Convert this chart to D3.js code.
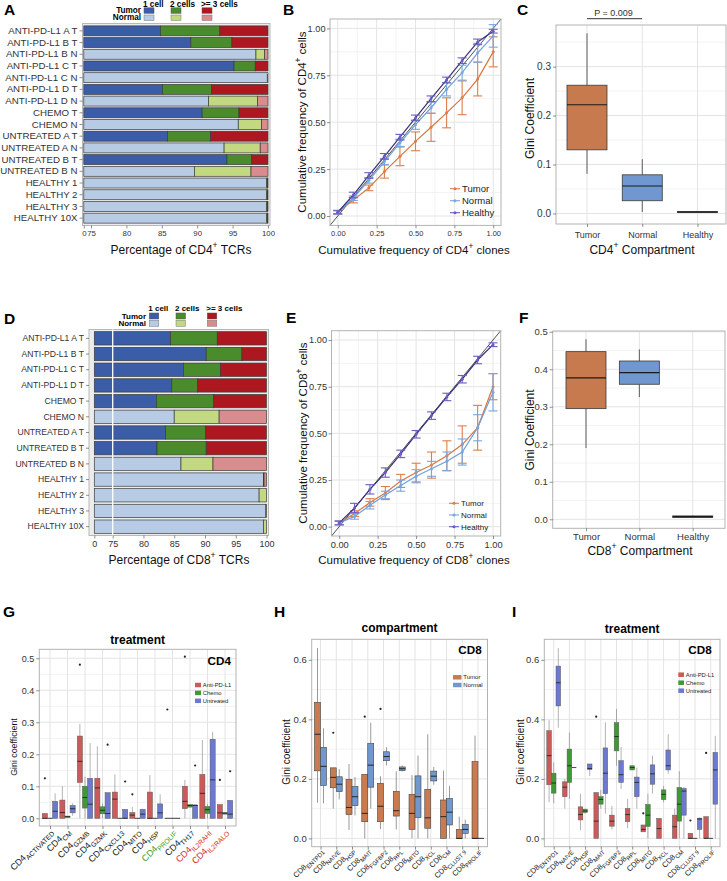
<!DOCTYPE html>
<html lang="en">
<head>
<meta charset="UTF-8"/>
<title>Clonal expansion of CD4 and CD8 T cells</title>
<script src="https://d3js.org/d3.v7.min.js"></script>
<style>
  body { margin: 0; background: #fff; }
</style>
</head>
<body>
<div id="figure"></div>
<script>
// ---------------- data ----------------
// A: share of CD4 TCRs in clones of 1 cell, 2 cells, >= 3 cells (%)
const cd4Samples = ["ANTI-PD-L1 A T","ANTI-PD-L1 B T","ANTI-PD-L1 B N","ANTI-PD-L1 C T","ANTI-PD-L1 C N",
  "ANTI-PD-L1 D T","ANTI-PD-L1 D N","CHEMO T","CHEMO N","UNTREATED A T","UNTREATED A N","UNTREATED B T",
  "UNTREATED B N","HEALTHY 1","HEALTHY 2","HEALTHY 3","HEALTHY 10X"];
const cd4OneCell    = [84.8,89.1,98.3,95.2,99.9,85.1,91.6,90.7,95.8,85.8,93.8,94.2,89.6,99.8,99.8,99.8,99.8];
const cd4TwoCells   = [8.4,5.8,1.2,3.0,0.1,6.9,6.9,5.2,3.3,6.1,5.1,3.5,8.0,0.15,0.15,0.15,0.15];
const cd4ThreeCells = [6.8,5.1,0.5,1.8,0.0,8.0,1.5,4.1,0.9,8.1,1.1,2.3,2.4,0.05,0.05,0.05,0.05];

// D: same for CD8
const cd8Samples = ["ANTI-PD-L1 A T","ANTI-PD-L1 B T","ANTI-PD-L1 C T","ANTI-PD-L1 D T","CHEMO T","CHEMO N",
  "UNTREATED A T","UNTREATED B T","UNTREATED B N","HEALTHY 1","HEALTHY 2","HEALTHY 3","HEALTHY 10X"];
const cd8OneCell    = [84.4,90.2,86.5,84.6,82.1,85.0,83.6,82.2,86.1,99.5,98.8,99.9,99.5];
const cd8TwoCells   = [7.6,5.8,6.0,4.2,9.3,7.3,6.5,8.0,5.2,0.1,1.2,0.1,0.5];
const cd8ThreeCells = [8.0,4.0,7.5,11.2,8.6,7.7,9.9,9.8,8.7,0.4,0.0,0.0,0.0];
const pctTicks = [0,75,80,85,90,95,100];

// B / E: cumulative frequency curves (mean and error)
const cloneFrac = [0,0.1,0.2,0.3,0.4,0.5,0.6,0.7,0.8,0.9,1.0];
const cd4TumorCum     = [0.02,0.085,0.15,0.237,0.318,0.398,0.473,0.55,0.63,0.73,0.875];
const cd4TumorCumErr  = [0.01,0.015,0.015,0.035,0.05,0.05,0.075,0.08,0.09,0.09,0.08];
const cd4NormalCum    = [0.02,0.095,0.19,0.29,0.39,0.487,0.577,0.675,0.764,0.87,0.96];
const cd4NormalCumErr = [0.01,0.012,0.015,0.015,0.02,0.025,0.03,0.035,0.04,0.05,0.06];
const cd4HealthyCum   = [0.02,0.112,0.216,0.318,0.42,0.523,0.625,0.725,0.828,0.928,0.985];
const cd4HealthyCumErr= [0.008,0.015,0.015,0.015,0.015,0.015,0.015,0.015,0.015,0.015,0.01];
const cd8TumorCum     = [0.02,0.07,0.13,0.18,0.245,0.29,0.33,0.38,0.44,0.53,0.75];
const cd8TumorCumErr  = [0.01,0.015,0.02,0.035,0.035,0.05,0.07,0.08,0.1,0.12,0.07];
const cd8NormalCum    = [0.02,0.055,0.115,0.17,0.22,0.27,0.31,0.35,0.40,0.53,0.72];
const cd8NormalCumErr = [0.01,0.015,0.02,0.02,0.03,0.035,0.04,0.05,0.07,0.07,0.1];
const cd8HealthyCum   = [0.02,0.10,0.20,0.29,0.39,0.495,0.595,0.695,0.79,0.893,0.975];
const cd8HealthyCumErr= [0.01,0.025,0.025,0.025,0.02,0.02,0.02,0.02,0.02,0.02,0.01];
const cumTicks = [0,0.25,0.5,0.75,1];

// C / F: Gini coefficient per compartment [low whisker, q1, median, q3, high whisker]
const compartments = ["Tumor","Normal","Healthy"];
const cd4Gini = [[0.081,0.13,0.222,0.262,0.368],[0.003,0.026,0.056,0.079,0.111],[0.001,0.002,0.003,0.004,0.005]];
const cd8Gini = [[0.19,0.295,0.377,0.447,0.48],[0.326,0.36,0.391,0.422,0.453],[0.004,0.005,0.007,0.009,0.01]];

// G: CD4 subsets by treatment
const cd4Subsets = ["ACTIVATED","CM","GZMB","GZMK","CXCL13","MITO","HSP","PROLIF","TH17","IL2RAHI","IL2RALO"];
const treatments = ["Anti-PD-L1","Chemo","Untreated"];
const cd4AntiPD = [[0,0,0,0.015,0.015],[0,0,0.018,0.057,0.1],[0,0.112,0.178,0.257,0.295],[0,0,0.095,0.125,0.225],
  [0,0,0.06,0.082,0.137],[0,0,0.01,0.018,0.035],[0,0,0,0.082,0.135],[0,0,0,0,0],[0,0.03,0.053,0.1,0.12],
  [0,0,0.078,0.137,0.245],[0,0,0.017,0.043,0.043]];
const cd4Chemo = [[0,0,0,0,0],[0.003,0.003,0.005,0.007,0.007],[0,0.032,0.065,0.1,0.13],[0,0.014,0.025,0.036,0.046],
  [0,0,0,0,0],[0,0,0,0,0],[0,0,0,0,0],[0,0,0,0,0],[0.035,0.035,0.04,0.043,0.043],
  [0,0.015,0.027,0.037,0.045],[0.013,0.013,0.016,0.018,0.018]];
const cd4Untreated = [[0,0,0.022,0.053,0.078],[0.008,0.017,0.03,0.04,0.047],[0,0,0.044,0.125,0.235],[0,0,0.015,0.08,0.08],
  [0,0,0,0.028,0.028],[0,0,0.013,0.028,0.03],[0,0,0.017,0.045,0.075],[0,0,0,0,0],[0,0,0.04,0.042,0.042],
  [0,0,0.12,0.247,0.27],[0,0,0.013,0.056,0.056]];
const cd4Outliers = [[0,0,0.125],[2,0,0.48],[3,2,0.23],[4,2,0.115],[5,0,0.075],[7,0,0.34],[8,2,0.165],[8,0,0.505],[10,0,0.12],[10,2,0.147]];

// H: CD8 subsets by compartment
const cd8Subsets = ["ENTPD1","NAIVE","HSP","MAIT","FGFBP2","RPL","MITO","XCL","CM","CLUST 9","PROLIF"];
const tissues = ["Tumor","Normal"];
const cd8Tumor = [[0.12,0.227,0.35,0.457,0.64],[0.10,0.17,0.205,0.237,0.237],[0.028,0.08,0.104,0.198,0.25],
  [0,0.056,0.084,0.215,0.215],[0.031,0.056,0.108,0.185,0.209],[0.03,0.075,0.093,0.158,0.225],[0,0.03,0.084,0.148,0.213],
  [0,0.034,0.069,0.165,0.35],[0,0,0.073,0.129,0.228],[0,0,0,0.03,0.073],[0,0,0,0.258,0.345]];
const cd8Normal = [[0.118,0.178,0.242,0.306,0.37],[0.131,0.157,0.182,0.207,0.233],[0.077,0.11,0.14,0.174,0.206],
  [0.10,0.172,0.246,0.319,0.389],[0.245,0.261,0.275,0.291,0.306],[0.225,0.228,0.234,0.24,0.245],[0,0.07,0.14,0.21,0.278],
  [0.18,0.193,0.209,0.226,0.24],[0,0.045,0.088,0.134,0.176],[0,0.017,0.03,0.047,0.063],[0,0,0,0,0]];
const cd8TissueOutliers = [[1,0,0.355],[3,0,0.409],[4,0,0.435]];

// I: CD8 subsets by treatment
const cd8AntiPD = [[0.121,0.18,0.278,0.362,0.397],[0.10,0.14,0.172,0.19,0.2],[0.028,0.062,0.08,0.106,0.15],
  [0,0,0.058,0.154,0.154],[0.03,0.041,0.058,0.078,0.109],[0.034,0.056,0.08,0.1,0.132],[0.022,0.022,0.03,0.045,0.045],
  [0,0,0.033,0.067,0.067],[0,0,0.039,0.078,0.1],[0,0,0,0.017,0.017],[0,0,0,0.073,0.073]];
const cd8Chemo = [[0.118,0.152,0.186,0.219,0.255],[0.132,0.188,0.244,0.3,0.356],[0.083,0.087,0.092,0.098,0.1],
  [0.1,0.115,0.131,0.14,0.163],[0.244,0.294,0.342,0.389,0.435],[0.23,0.23,0.238,0.244,0.244],[0,0.04,0.078,0.114,0.15],
  [0.121,0.13,0.148,0.163,0.176],[0,0.058,0.115,0.171,0.226],[0,0,0,0,0],[0,0,0,0,0]];
const cd8Untreated = [[0.372,0.445,0.523,0.579,0.639],[0.238,0.238,0.238,0.238,0.238],[0.21,0.231,0.235,0.25,0.25],
  [0.083,0.15,0.219,0.304,0.39],[0.166,0.188,0.214,0.261,0.307],[0.1,0.14,0.188,0.206,0.238],[0.15,0.182,0.217,0.247,0.278],
  [0.217,0.23,0.244,0.297,0.35],[0,0.078,0.159,0.168,0.173],[0,0.03,0.065,0.068,0.07],[0,0.115,0.23,0.289,0.345]];
const cd8TreatOutliers = [[3,0,0.409],[6,0,0.084],[9,0,0.06],[10,0,0.287]];

// ---------------- drawing ----------------
const FONT = "'Liberation Sans', Arial, Helvetica, sans-serif";
const svg = d3.select("#figure").append("svg")
  .attr("width", 727).attr("height", 881)
  .attr("font-family", FONT);

const tumorFill  = ["#3b5ca6", "#4a8b2c", "#ad1820"];
const normalFill = ["#b7cbe5", "#c3d981", "#d98b8e"];

// text with sub/superscript parts: ["CD4", ["+", "sup"], " TCRs"]
function rich(sel, parts, size, ratio) {
  const r = ratio || 0.72;
  let cur = 0;
  parts.forEach(p => {
    const [s, kind] = typeof p === "string" ? [p, null] : p;
    const off = kind === "sup" ? -0.42 * size : kind === "sub" ? 0.3 * size : 0;
    sel.append("tspan").attr("dy", off - cur).attr("font-size", kind ? size * r : size).text(s);
    cur = off;
  });
  return sel;
}

function styleAxis(sel, size) {
  sel.attr("font-family", FONT).attr("font-size", size);
  sel.select(".domain").remove();
  sel.selectAll(".tick line").attr("stroke", "#444").attr("stroke-width", 0.6);
  sel.selectAll(".tick text").attr("fill", "#333");
}

function frameRect(g, f, fill, stroke) {
  return g.append("rect").attr("x", f[0]).attr("y", f[1])
    .attr("width", f[2] - f[0]).attr("height", f[3] - f[1])
    .attr("fill", fill || "none").attr("stroke", stroke || "#b3b3b3").attr("stroke-width", 1);
}

function panelLabel(t, x, y) {
  svg.append("text").attr("x", x).attr("y", y).attr("font-size", 15.5)
    .attr("font-weight", "bold").text(t);
}

function yTitle(parts, x, y, size) {
  rich(svg.append("text").attr("transform", `translate(${x},${y}) rotate(-90)`)
    .attr("text-anchor", "middle").attr("fill", "#111"), parts, size);
}

function xTitle(parts, x, y, size) {
  rich(svg.append("text").attr("x", x).attr("y", y)
    .attr("text-anchor", "middle").attr("fill", "#111"), parts, size);
}

// ---- stacked clone-size bars (A, D) ----
function drawStacked(o) {
  const g = svg.append("g");
  const f = o.frame;
  const x = d3.scaleLinear().domain([0, 75, 100]).range(o.xRange);
  const y = d3.scaleBand().domain(o.names).range(o.yRange).paddingInner(0.15).paddingOuter(0.075);
  frameRect(g, f, "#ececec", "#b8b8b8");

  o.names.forEach((name, i) => {
    const cols = / T$/.test(name) ? tumorFill : normalFill;
    const parts = [o.one[i], o.two[i], o.three[i]];
    let start = 0;
    parts.forEach((v, k) => {
      if (v > 0) {
        g.append("rect")
          .attr("x", x(start)).attr("y", y(name))
          .attr("width", x(start + v) - x(start)).attr("height", y.bandwidth())
          .attr("fill", cols[k]).attr("stroke", "#3c3c3c").attr("stroke-width", 0.7);
      }
      start += v;
    });
  });
  if (o.breakLine) {
    g.append("line").attr("x1", x(75)).attr("x2", x(75)).attr("y1", f[1]).attr("y2", f[3])
      .attr("stroke", "#fff").attr("stroke-width", 1.3);
  }

  g.append("g").attr("transform", `translate(${f[0]},0)`)
    .call(d3.axisLeft(y).tickSize(3).tickPadding(2))
    .call(s => styleAxis(s, o.labelSize));
  g.append("g").attr("transform", `translate(0,${f[3]})`)
    .call(d3.axisBottom(x).tickValues(pctTicks).tickSize(3).tickPadding(2).tickFormat(d3.format("d")))
    .call(s => styleAxis(s, o.tickSize));

  // legend
  const L = o.legend;
  ["1 cell", "2 cells", ">= 3 cells"].forEach((t, k) => {
    g.append("text").attr("x", L.sw[k] - 1).attr("y", L.hdrY).attr("font-size", L.size)
      .attr("font-weight", "bold").text(t);
    g.append("rect").attr("x", L.sw[k]).attr("y", L.tSwY).attr("width", L.swW).attr("height", L.swH)
      .attr("fill", tumorFill[k]).attr("stroke", "#555").attr("stroke-width", 0.5);
    g.append("rect").attr("x", L.sw[k]).attr("y", L.nSwY).attr("width", L.swW).attr("height", L.swH)
      .attr("fill", normalFill[k]).attr("stroke", "#777").attr("stroke-width", 0.5);
  });
  g.append("text").attr("x", L.labelX).attr("y", L.tY).attr("text-anchor", "end")
    .attr("font-size", L.size).attr("font-weight", "bold").text("Tumor");
  g.append("text").attr("x", L.labelX).attr("y", L.nY).attr("text-anchor", "end")
    .attr("font-size", L.size).attr("font-weight", "bold").text("Normal");
}

drawStacked({
  names: cd4Samples, one: cd4OneCell, two: cd4TwoCells, three: cd4ThreeCells,
  frame: [82.5, 23.5, 270, 225.5], xRange: [83.8, 91, 268], yRange: [25, 224],
  labelSize: 9.7, tickSize: 7.8,
  legend: { size: 8.2, hdrY: 6.8, tY: 12.8, nY: 20.4, labelX: 141, sw: [144, 171, 202],
            swW: 10, swH: 5.5, tSwY: 7.8, nSwY: 15 }
});
xTitle(["Percentage of CD4", ["+", "sup"], " TCRs"], 181, 253.5, 12);

drawStacked({
  names: cd8Samples, one: cd8OneCell, two: cd8TwoCells, three: cd8ThreeCells,
  frame: [89, 329.5, 268.5, 535.5], xRange: [94.3, 112.7, 266.5], yRange: [330.5, 534.5],
  labelSize: 8.6, tickSize: 9, breakLine: true,
  legend: { size: 8, hdrY: 311.3, tY: 318.5, nY: 326.2, labelX: 146, sw: [149.3, 176, 207.3],
            swW: 9.5, swH: 6, tSwY: 313, nSwY: 320.3 }
});
xTitle(["Percentage of CD8", ["+", "sup"], " TCRs"], 179, 563.5, 12);

// ---- cumulative frequency curves (B, E) ----
function drawCum(o) {
  const g = svg.append("g");
  const f = o.frame;
  const x = d3.scaleLinear().domain([-0.05, 1.05]).range([f[0], f[2]]);
  const y = d3.scaleLinear().domain([-0.05, 1.05]).range([f[3], f[1]]);
  frameRect(g, f, "#fff", "none");
  const minor = [0.125, 0.375, 0.625, 0.875];
  minor.forEach(v => {
    g.append("line").attr("x1", x(v)).attr("x2", x(v)).attr("y1", f[1]).attr("y2", f[3]).attr("stroke", "#f3f3f3");
    g.append("line").attr("x1", f[0]).attr("x2", f[2]).attr("y1", y(v)).attr("y2", y(v)).attr("stroke", "#f3f3f3");
  });
  cumTicks.forEach(v => {
    g.append("line").attr("x1", x(v)).attr("x2", x(v)).attr("y1", f[1]).attr("y2", f[3]).attr("stroke", "#e4e4e4");
    g.append("line").attr("x1", f[0]).attr("x2", f[2]).attr("y1", y(v)).attr("y2", y(v)).attr("stroke", "#e4e4e4");
  });
  g.append("line").attr("x1", x(-0.05)).attr("y1", y(-0.05)).attr("x2", x(1.05)).attr("y2", y(1.05))
    .attr("stroke", "#222").attr("stroke-width", 0.8);

  const line = d3.line().x((d, i) => x(cloneFrac[i])).y(d => y(d));
  o.series.forEach(s => {
    g.append("path").attr("d", line(s.mean)).attr("fill", "none")
      .attr("stroke", s.line).attr("stroke-width", 1.2);
    s.mean.forEach((m, i) => {
      const cx = x(cloneFrac[i]), top = y(m + s.err[i]), bot = y(m - s.err[i]);
      g.append("line").attr("x1", cx).attr("x2", cx).attr("y1", top).attr("y2", bot)
        .attr("stroke", s.mark).attr("stroke-width", 1.1);
      [top, bot].forEach(yy => g.append("line").attr("x1", cx - 4.5).attr("x2", cx + 4.5)
        .attr("y1", yy).attr("y2", yy).attr("stroke", s.mark).attr("stroke-width", 1.1));
      g.append("circle").attr("cx", cx).attr("cy", y(m)).attr("r", 1.5).attr("fill", s.mark);
    });
  });
  frameRect(g, f, "none", "#b3b3b3");

  g.append("g").attr("transform", `translate(${f[0]},0)`)
    .call(d3.axisLeft(y).tickValues(cumTicks).tickSize(3).tickPadding(1.5).tickFormat(d3.format(".2f")))
    .call(s => styleAxis(s, o.yTick));
  g.append("g").attr("transform", `translate(0,${f[3]})`)
    .call(d3.axisBottom(x).tickValues(cumTicks).tickSize(3).tickPadding(2).tickFormat(d3.format(".2f")))
    .call(s => styleAxis(s, o.xTick));

  o.series.forEach((s, k) => {
    const yy = o.legendY[k];
    g.append("line").attr("x1", o.legendX).attr("x2", o.legendX + 10).attr("y1", yy).attr("y2", yy)
      .attr("stroke", s.mark).attr("stroke-width", 1.1);
    g.append("circle").attr("cx", o.legendX + 5).attr("cy", yy).attr("r", 1.5).attr("fill", s.mark);
    g.append("text").attr("x", o.legendX + 12).attr("y", yy).attr("dy", "0.35em")
      .attr("font-size", o.legendSize).attr("fill", "#222").text(s.name);
  });
}

drawCum({
  frame: [330, 19, 501, 225.4], yTick: 9.2, xTick: 7.5,
  legendX: 450, legendY: [188.7, 200.7, 212.7], legendSize: 9.5,
  series: [
    { name: "Tumor", mean: cd4TumorCum, err: cd4TumorCumErr, line: "#d8763e", mark: "#dc7e4c" },
    { name: "Normal", mean: cd4NormalCum, err: cd4NormalCumErr, line: "#6f9fdc", mark: "#79a6df" },
    { name: "Healthy", mean: cd4HealthyCum, err: cd4HealthyCumErr, line: "#34307a", mark: "#6a5cc2" }
  ]
});
yTitle(["Cumulative frequency of CD4", ["+", "sup"], " cells"], 305.5, 122, 11.5);
xTitle(["Cumulative frequency of CD4", ["+", "sup"], " clones"], 414, 253.5, 11.5);

drawCum({
  frame: [331.5, 330.7, 500.7, 536], yTick: 9.2, xTick: 9.3,
  legendX: 449, legendY: [503.3, 515, 526.7], legendSize: 8,
  series: [
    { name: "Tumor", mean: cd8TumorCum, err: cd8TumorCumErr, line: "#d8763e", mark: "#dc7e4c" },
    { name: "Normal", mean: cd8NormalCum, err: cd8NormalCumErr, line: "#6f9fdc", mark: "#79a6df" },
    { name: "Healthy", mean: cd8HealthyCum, err: cd8HealthyCumErr, line: "#34307a", mark: "#6a5cc2" }
  ]
});
yTitle(["Cumulative frequency of CD8", ["+", "sup"], " cells"], 306.5, 433, 11.5);
xTitle(["Cumulative frequency of CD8", ["+", "sup"], " clones"], 414, 563.5, 11.5);

// ---- box plots (C, F, G, H, I) ----
function drawBoxes(o) {
  const g = svg.append("g");
  const f = o.frame;
  const x = d3.scalePoint().domain(o.cats).range(o.centers);
  const y = d3.scaleLinear().domain(o.yDomain).range([f[3], f[1]]);
  frameRect(g, f, "#fff", "none");
  o.minor.forEach(v => g.append("line").attr("x1", f[0]).attr("x2", f[2]).attr("y1", y(v)).attr("y2", y(v))
    .attr("stroke", "#f3f3f3"));
  o.major.forEach(v => g.append("line").attr("x1", f[0]).attr("x2", f[2]).attr("y1", y(v)).attr("y2", y(v))
    .attr("stroke", "#e4e4e4"));
  o.cats.forEach(c => g.append("line").attr("x1", x(c)).attr("x2", x(c)).attr("y1", f[1]).attr("y2", f[3])
    .attr("stroke", "#e4e4e4"));

  const n = o.groups.length;
  const bw = o.single ? o.boxW : x.step() * o.dodge / n;
  const boxes = [];
  o.groups.forEach((grp, j) => {
    o.cats.forEach((c, i) => {
      boxes.push({
        cx: x(c) + (o.single ? 0 : (j - (n - 1) / 2) * bw),
        s: grp[i], fill: o.single ? o.fills[i] : o.fills[j]
      });
    });
  });
  boxes.forEach(b => {
    const [lo, q1, md, q3, hi] = b.s;
    const xl = b.cx - bw / 2;
    g.append("line").attr("x1", b.cx).attr("x2", b.cx).attr("y1", y(hi)).attr("y2", y(q3))
      .attr("stroke", o.whisker).attr("stroke-width", o.sw);
    g.append("line").attr("x1", b.cx).attr("x2", b.cx).attr("y1", y(q1)).attr("y2", y(lo))
      .attr("stroke", o.whisker).attr("stroke-width", o.sw);
    g.append("rect").attr("x", xl).attr("y", y(q3)).attr("width", bw)
      .attr("height", Math.max(0, y(q1) - y(q3)))
      .attr("fill", b.fill).attr("stroke", o.boxStroke).attr("stroke-width", o.sw);
    g.append("line").attr("x1", xl).attr("x2", xl + bw).attr("y1", y(md)).attr("y2", y(md))
      .attr("stroke", "#1a1a1a").attr("stroke-width", o.sw + 0.3);
  });
  (o.outliers || []).forEach(([ci, gj, v]) => {
    const cx = x(o.cats[ci]) + (gj - (n - 1) / 2) * bw;
    g.append("circle").attr("cx", cx).attr("cy", y(v)).attr("r", 1.1).attr("fill", "#222");
  });
  frameRect(g, f, "none", "#b3b3b3");

  g.append("g").attr("transform", `translate(${f[0]},0)`)
    .call(d3.axisLeft(y).tickValues(o.major).tickSize(3).tickPadding(2).tickFormat(d3.format(".1f")))
    .call(s => styleAxis(s, o.yTick));
  g.append("g").attr("transform", `translate(0,${f[3]})`)
    .call(d3.axisBottom(x).tickSize(3).tickPadding(o.xPad || 2).tickFormat(o.rotated ? "" : d => d))
    .call(s => styleAxis(s, o.xTick));

  if (o.rotated) {
    o.cats.forEach(c => {
      const t = g.append("text")
        .attr("transform", `translate(${x(c) + 3},${f[3] + o.labDy}) rotate(-45)`)
        .attr("text-anchor", "end").attr("fill", o.labColor(c));
      rich(t, [o.prefix, [c, "sub"]], o.labSize, o.subRatio);
    });
  }
  if (o.legend) {
    const L = o.legend;
    L.names.forEach((nm, k) => {
      const yy = L.y0 + k * L.dy;
      g.append("rect").attr("x", L.x).attr("y", yy - L.h / 2).attr("width", L.w).attr("height", L.h)
        .attr("fill", o.fills[k]);
      g.append("text").attr("x", L.x + L.w + 1.8).attr("y", yy).attr("dy", "0.35em")
        .attr("font-size", L.size).attr("fill", "#222").text(nm);
    });
  }
  if (o.tag) {
    g.append("text").attr("x", o.tag[0]).attr("y", o.tag[1]).attr("text-anchor", "end")
      .attr("font-size", 11.7).attr("font-weight", "bold").text(o.tag[2]);
  }
  if (o.title) {
    g.append("text").attr("x", (f[0] + f[2]) / 2).attr("y", o.title[1]).attr("text-anchor", "middle")
      .attr("font-size", 12).attr("font-weight", "bold").text(o.title[0]);
  }
}

const compFills = ["#c77a4d", "#7097cf", "#4a4b8d"];
drawBoxes({
  cats: compartments, groups: [cd4Gini], single: true, boxW: 40, fills: compFills,
  frame: [556, 25, 726, 224], centers: [587, 697.5], yDomain: [-0.0215, 0.385],
  major: [0, 0.1, 0.2, 0.3], minor: [0.05, 0.15, 0.25, 0.35],
  whisker: "#3a3a3a", boxStroke: "#3a3a3a", sw: 0.8, yTick: 10, xTick: 9, xPad: 5
});
svg.append("line").attr("x1", 587).attr("x2", 642).attr("y1", 18.7).attr("y2", 18.7)
  .attr("stroke", "#333").attr("stroke-width", 1);
svg.append("text").attr("x", 613.5).attr("y", 15.5).attr("text-anchor", "middle")
  .attr("font-size", 9).attr("fill", "#333").text("P = 0.009");
yTitle(["Gini Coefficient"], 534, 118.5, 12);
xTitle(["CD4", ["+", "sup"], " Compartment"], 642, 253.5, 12);

drawBoxes({
  cats: compartments, groups: [cd8Gini], single: true, boxW: 40, fills: compFills,
  frame: [552.7, 331, 725, 528.3], centers: [586, 692.7], yDomain: [-0.024, 0.502],
  major: [0, 0.1, 0.2, 0.3, 0.4, 0.5], minor: [0.05, 0.15, 0.25, 0.35, 0.45],
  whisker: "#3a3a3a", boxStroke: "#3a3a3a", sw: 0.8, yTick: 9.5, xTick: 9.5, xPad: 2
});
yTitle(["Gini Coefficient"], 534, 430, 12);
xTitle(["CD8", ["+", "sup"], " Compartment"], 640, 554.5, 12);

const treatFills = ["#cd5a5a", "#3f9a33", "#6b7ad0"];
drawBoxes({
  cats: cd4Subsets, groups: [cd4AntiPD, cd4Chemo, cd4Untreated], dodge: 0.88, fills: treatFills,
  outliers: cd4Outliers,
  frame: [39.3, 649.3, 236, 826], centers: [50, 225], yDomain: [-0.024, 0.528],
  major: [0, 0.1, 0.2, 0.3, 0.4, 0.5], minor: [0.05, 0.15, 0.25, 0.35, 0.45],
  whisker: "#666", boxStroke: "#5a5a5a", sw: 0.5, yTick: 9, xTick: 9,
  rotated: true, prefix: "CD4", labSize: 9, subRatio: 0.76, labDy: 6,
  labColor: c => c === "PROLIF" ? "#2e9b2e" : (c === "IL2RAHI" || c === "IL2RALO") ? "#d02828" : "#111",
  legend: { names: treatments, x: 195, y0: 685, dy: 7.9, w: 6, h: 4.5, size: 5.8 },
  tag: [231, 664.5, "CD4"], title: ["treatment", 643.5]
});
yTitle(["Gini coefficient"], 17, 747, 8.8);

drawBoxes({
  cats: cd8Subsets, groups: [cd8Tumor, cd8Normal], dodge: 0.76, fills: ["#c97b4f", "#7097d0"],
  outliers: cd8TissueOutliers,
  frame: [311.7, 639.3, 487.5, 846.7], centers: [320.5, 478], yDomain: [-0.028, 0.669],
  major: [0, 0.2, 0.4, 0.6], minor: [0.1, 0.3, 0.5],
  whisker: "#555", boxStroke: "#444", sw: 0.6, yTick: 9.5, xTick: 9,
  rotated: true, prefix: "CD8", labSize: 7.6, subRatio: 0.78, labDy: 4.3, labColor: () => "#111",
  legend: { names: tissues, x: 453, y0: 677.3, dy: 7.7, w: 8.5, h: 4.5, size: 6 },
  tag: [481.7, 653.5, "CD8"], title: ["compartment", 631.5]
});
yTitle(["Gini coefficient"], 290, 752, 10);

drawBoxes({
  cats: cd8Subsets, groups: [cd8AntiPD, cd8Chemo, cd8Untreated], dodge: 0.88, fills: treatFills,
  outliers: cd8TreatOutliers,
  frame: [544.3, 639.3, 720, 846.7], centers: [553.7, 710.7], yDomain: [-0.028, 0.669],
  major: [0, 0.2, 0.4, 0.6], minor: [0.1, 0.3, 0.5],
  whisker: "#666", boxStroke: "#5a5a5a", sw: 0.5, yTick: 9.5, xTick: 9,
  rotated: true, prefix: "CD8", labSize: 7.6, subRatio: 0.78, labDy: 4.3, labColor: () => "#111",
  legend: { names: treatments, x: 678.3, y0: 674.7, dy: 8, w: 5.7, h: 4.5, size: 5.8 },
  tag: [711.7, 653.5, "CD8"], title: ["treatment", 632.5]
});
yTitle(["Gini coefficient"], 523.5, 752, 10);

// panel letters
panelLabel("A", 4, 14.5);
panelLabel("B", 283, 15);
panelLabel("C", 517, 15);
panelLabel("D", 4, 323.5);
panelLabel("E", 286, 323);
panelLabel("F", 519, 323);
panelLabel("G", 3, 617);
panelLabel("H", 274, 617);
panelLabel("I", 512, 617);
</script>
</body>
</html>
